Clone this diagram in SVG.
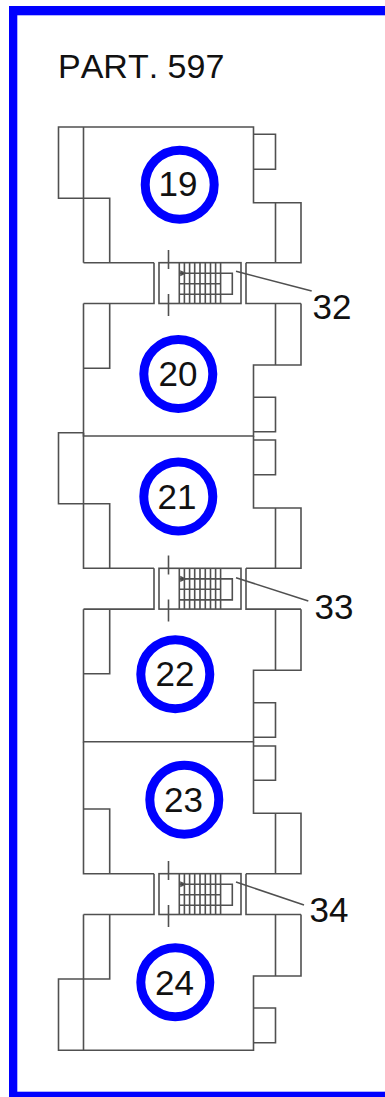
<svg xmlns="http://www.w3.org/2000/svg" width="385" height="1097" viewBox="0 0 385 1097">
<style>
.l{fill:none;stroke:#505050;stroke-width:1.6}
.c{fill:#fff;stroke:#0000ff;stroke-width:9}
.n{font-family:"Liberation Sans",Arial,sans-serif;font-size:35px;fill:#111;text-anchor:middle}
.t{font-family:"Liberation Sans",Arial,sans-serif;font-size:35px;fill:#111}
</style>
<defs>
<g id="stair" class="l">
<path d="M154 0V40.8H83.5M246 0V40.8H301"/>
<rect x="159" y="0" width="82" height="40.8"/>
<path d="M168.5 -12.7V6.3M168.5 31.3V53.3"/>
<path d="M179.3 0V40.8M184.4 0V40.8M189.6 0V40.8M194.7 0V40.8M200 0V40.8M205.3 0V40.8M210.5 0V40.8M215.6 0V40.8M220.6 0V40.8"/>
<path d="M179.3 10.6H232.3V31.6H179.3M179.3 21H220.6"/>
<path d="M181 8.8L185 10.6L181 12.4Z" fill="#222"/>
</g>
</defs>
<g id="border" fill="#0000ff">
<rect x="9" y="6" width="376" height="9.3"/>
<rect x="9" y="6" width="8.3" height="1091"/>
<rect x="9" y="1091.7" width="376" height="5.3"/>
</g>
<text id="title" class="t" x="58" y="77.5" style="font-kerning:none;font-size:34px">PART. 597</text>
<g id="unit-19">
<path class="l" d="M83.5 262.7V127H253.5V202.7H301V262.7H246M154 262.7H83.5M83.5 127H58.5V198.3H109.7V262.7M275.5 202.7V262.7M253.5 134.3H275.5V169.3H253.5"/>
<circle class="c" cx="179.7" cy="184.7" r="34.5"/><text class="n" x="178" y="196">19</text>
</g>
<g id="unit-20">
<path class="l" d="M83.5 303.5V436H253.5V365H301V303.5M109.7 303.5V368.3H83.5M275.5 303.5V365M253.5 397.3H275.5V431.7H253.5"/>
<circle class="c" cx="178.3" cy="374" r="34.5"/><text class="n" x="178" y="385.5">20</text>
</g>
<g id="unit-21">
<path class="l" d="M83.5 432.7V568.3H154M253.5 436V508H301V568.3H246M83.5 432.7H58.5V503.7H109.7V568.3M275.5 508V568.3M253.5 440H275.5V474.7H253.5"/>
<circle class="c" cx="178.3" cy="496.5" r="34.5"/><text class="n" x="177" y="508.5">21</text>
</g>
<g id="unit-22">
<path class="l" d="M83.5 609.3V741.7H253.5V670.3H301V609.3M109.7 609.3V673.7H83.5M275.5 609.3V670.3M253.5 702.7H275.5V737.3H253.5"/>
<circle class="c" cx="175.3" cy="674.2" r="34.5"/><text class="n" x="175" y="686">22</text>
</g>
<g id="unit-23">
<path class="l" d="M83.5 741.7V873.7H154M253.5 741.7V813.3H301V873.7H246M83.5 809H109.7V873.7M275.5 813.3V873.7M253.5 746H275.5V780.3H253.5"/>
<circle class="c" cx="184.3" cy="799.7" r="34.5"/><text class="n" x="183.5" y="811.5">23</text>
</g>
<g id="unit-24">
<path class="l" d="M83.5 914.5V1050.3H253.5V976H301V914.5M109.7 914.5V979H58.5V1050.3H83.5M275.5 914.5V976M253.5 1008H275.5V1042.7H253.5"/>
<circle class="c" cx="175.3" cy="982.2" r="34.5"/><text class="n" x="174.5" y="994.5">24</text>
</g>
<g id="stair-32"><use href="#stair" y="262.7"/><text class="t" x="312.5" y="318.5">32</text></g>
<g id="stair-33"><use href="#stair" y="568.3"/><text class="t" x="314.5" y="618.5">33</text></g>
<g id="stair-34"><use href="#stair" y="873.7"/><text class="t" x="309.5" y="922">34</text></g>
<g id="connectors" class="l">
<path d="M236 271.3L311.7 291"/>
<path d="M236 577.7L308.3 601"/>
<path d="M236 882L304 905"/>
</g>
</svg>
